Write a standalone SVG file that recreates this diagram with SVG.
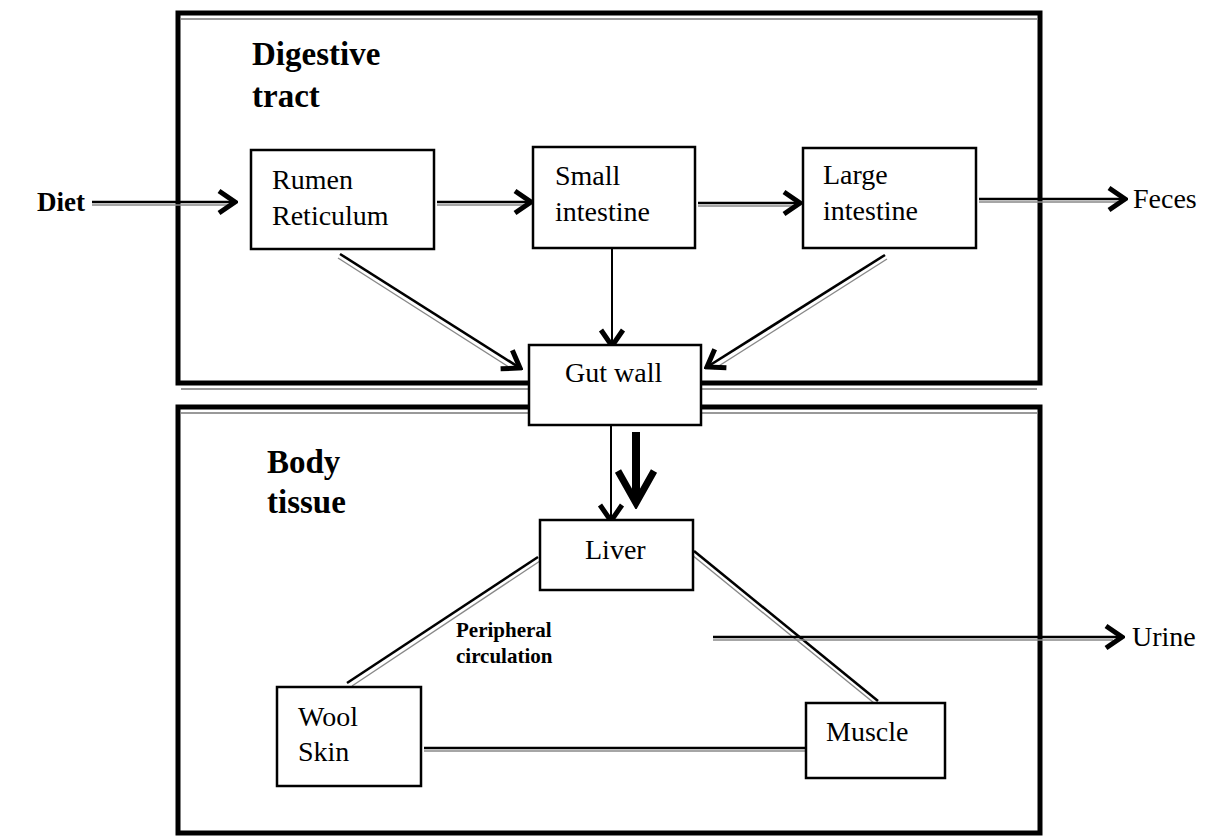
<svg xmlns="http://www.w3.org/2000/svg" width="1221" height="837" viewBox="0 0 1221 837">
<style>
.t{font-family:"Liberation Serif","Times New Roman",serif;font-size:28px;fill:#000}
.b{font-family:"Liberation Serif","Times New Roman",serif;font-weight:bold;fill:#000}
.node{fill:#fff;stroke:#000;stroke-width:2.5}
.frame{fill:none;stroke:#000;stroke-width:5}
.shade{fill:none;stroke:#777;stroke-width:1.3}
.ln{stroke:#000;stroke-width:2.6;fill:none}
.sh{stroke:#888;stroke-width:1.4;fill:none}
.thin{stroke:#000;stroke-width:2;fill:none}
</style>
<defs>
<marker id="chev" viewBox="0 0 24 28" markerWidth="24" markerHeight="28" refX="21" refY="14" orient="auto" markerUnits="userSpaceOnUse">
<path d="M5,3 L21,14 L5,25" fill="none" stroke="#000" stroke-width="5" stroke-linejoin="miter"/>
</marker>
<marker id="big" viewBox="0 0 44 44" markerWidth="44" markerHeight="44" refX="38" refY="22" orient="auto" markerUnits="userSpaceOnUse">
<path d="M6,4 L38,22 L6,40" fill="none" stroke="#000" stroke-width="7"/>
</marker>
</defs>
<rect width="1221" height="837" fill="#fff"/>

<g id="digestive-tract">
<rect class="frame" x="178" y="13" width="862" height="370"/>
<line class="shade" x1="181" y1="19" x2="1037" y2="19"/>
<line class="shade" x1="181" y1="389" x2="1037" y2="389"/>
<text class="b" font-size="33" x="252" y="65">Digestive</text>
<text class="b" font-size="33" x="252" y="107">tract</text>
</g>

<g id="body-tissue">
<rect class="frame" x="178" y="407" width="862" height="426"/>
<line class="shade" x1="181" y1="413" x2="1037" y2="413"/>
<text class="b" font-size="33" x="267" y="473">Body</text>
<text class="b" font-size="33" x="267" y="513">tissue</text>
</g>

<g id="connectors">
<!-- Diet -> Rumen -->
<line class="sh" x1="92" y1="205" x2="228" y2="205"/>
<line class="ln" x1="92" y1="202" x2="235" y2="202" marker-end="url(#chev)"/>
<!-- Rumen -> Small -->
<line class="sh" x1="437" y1="205" x2="524" y2="205"/>
<line class="ln" x1="437" y1="202" x2="531" y2="202" marker-end="url(#chev)"/>
<!-- Small -> Large -->
<line class="sh" x1="698" y1="206" x2="793" y2="206"/>
<line class="ln" x1="698" y1="203" x2="800" y2="203" marker-end="url(#chev)"/>
<!-- Large -> Feces -->
<line class="sh" x1="979" y1="202" x2="1118" y2="202"/>
<line class="ln" x1="979" y1="199" x2="1125" y2="199" marker-end="url(#chev)"/>
<!-- Rumen -> Gut wall -->
<line class="sh" x1="338" y1="258" x2="512" y2="369"/>
<line class="ln" x1="340" y1="254" x2="520" y2="368" marker-end="url(#chev)"/>
<!-- Large -> Gut wall -->
<line class="sh" x1="887" y1="259" x2="714" y2="369"/>
<line class="ln" x1="885" y1="255" x2="707" y2="367" marker-end="url(#chev)"/>
<!-- Small -> Gut wall -->
<line class="thin" x1="612" y1="248" x2="612" y2="346" marker-end="url(#chev)"/>
<!-- Gut wall -> Liver -->
<line class="thin" x1="611" y1="425" x2="611" y2="521" marker-end="url(#chev)"/>
<!-- thick arrow -->
<line x1="636" y1="432" x2="636" y2="503" stroke="#000" stroke-width="8" marker-end="url(#big)"/>
<!-- Liver - Wool -->
<line class="sh" x1="540" y1="561" x2="352" y2="686"/>
<line class="ln" x1="538" y1="557" x2="347" y2="683"/>
<!-- Liver - Muscle -->
<line class="sh" x1="692" y1="555" x2="874" y2="703"/>
<line class="ln" x1="694" y1="551" x2="878" y2="701"/>
<!-- Wool - Muscle -->
<line class="sh" x1="424" y1="751" x2="806" y2="751"/>
<line class="ln" x1="424" y1="748" x2="806" y2="748"/>
<!-- Urine -->
<line class="sh" x1="713" y1="640" x2="1113" y2="640"/>
<line class="ln" x1="713" y1="637" x2="1122" y2="637" marker-end="url(#chev)"/>
</g>

<g id="diet"><text class="b" font-size="27" x="37" y="211">Diet</text></g>
<g id="feces"><text class="t" x="1133" y="208">Feces</text></g>
<g id="urine"><text class="t" x="1132" y="646">Urine</text></g>

<g id="rumen-reticulum">
<rect class="node" x="251" y="150" width="183" height="99"/>
<text class="t" x="272" y="189">Rumen</text>
<text class="t" x="272" y="225">Reticulum</text>
</g>
<g id="small-intestine">
<rect class="node" x="533" y="147" width="162" height="101"/>
<text class="t" x="555" y="185">Small</text>
<text class="t" x="555" y="221">intestine</text>
</g>
<g id="large-intestine">
<rect class="node" x="803" y="148" width="173" height="100"/>
<text class="t" x="823" y="184">Large</text>
<text class="t" x="823" y="220">intestine</text>
</g>
<g id="gut-wall">
<rect class="node" x="529" y="345" width="172" height="80"/>
<text class="t" x="565" y="382">Gut wall</text>
</g>
<g id="liver">
<rect class="node" x="540" y="520" width="153" height="70"/>
<text class="t" x="585" y="559">Liver</text>
</g>
<g id="peripheral-circulation">
<text class="b" font-size="21" x="456" y="637">Peripheral</text>
<text class="b" font-size="21" x="456" y="663">circulation</text>
</g>
<g id="wool-skin">
<rect class="node" x="277" y="687" width="144" height="99"/>
<text class="t" x="298" y="726">Wool</text>
<text class="t" x="298" y="761">Skin</text>
</g>
<g id="muscle">
<rect class="node" x="806" y="703" width="139" height="75"/>
<text class="t" x="826" y="741">Muscle</text>
</g>
</svg>
